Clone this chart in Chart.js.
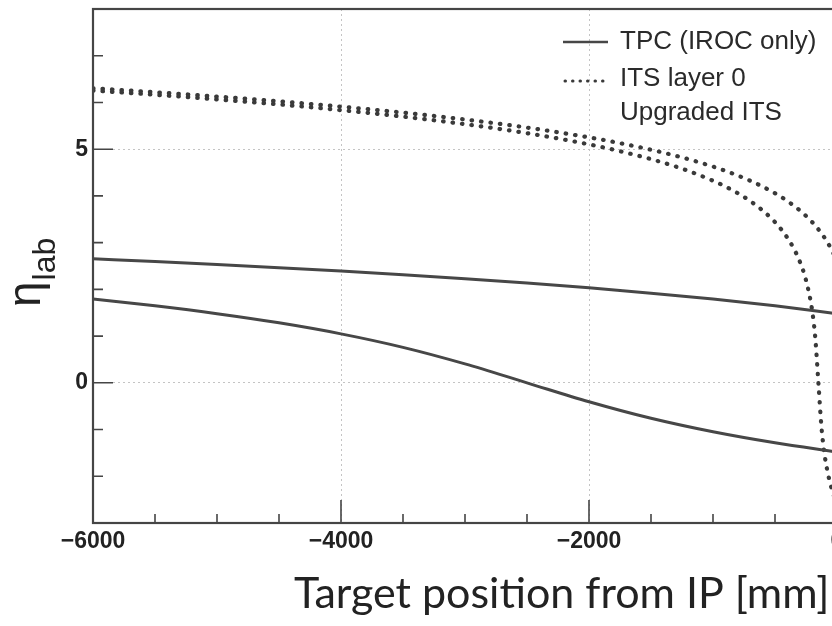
<!DOCTYPE html>
<html>
<head>
<meta charset="utf-8">
<script src="https://cdn.jsdelivr.net/npm/chart.js@4.4.1/dist/chart.umd.min.js"></script>
<style>
  html, body { margin: 0; padding: 0; background: #fff; overflow: hidden; }
  #wrap { width: 850px; height: 626px; }
</style>
</head>
<body>
<div id="wrap"><canvas id="eta-chart" width="850" height="626"></canvas></div>
<script>
// target position along the beam (mm) and eta acceptance limits
const tpcZ = [-6000, -5500, -5000, -4500, -4000, -3500, -3000, -2500, -2000, -1500, -1000, -500, 0];
const tpcUpper = [2.656, 2.596, 2.532, 2.464, 2.391, 2.312, 2.227, 2.134, 2.032, 1.919, 1.792, 1.647, 1.480];
const tpcLower = [1.792, 1.647, 1.480, 1.284, 1.048, 0.759, 0.405, 0, -0.405, -0.759, -1.048, -1.284, -1.480];

const itsZ = [-6000, -5500, -5000, -4500, -4000, -3500, -3000, -2500, -2000, -1750, -1500, -1250,
  -1000, -900, -800, -700, -600, -500, -450, -400, -350, -300, -250, -200, -175, -150, -125,
  -100, -75, -50, -25, 0];
const itsOuter = [6.304, 6.219, 6.126, 6.024, 5.910, 5.782, 5.635, 5.462, 5.253, 5.129, 4.988, 4.824,
  4.627, 4.536, 4.436, 4.325, 4.200, 4.057, 3.977, 3.890, 3.795, 3.689, 3.572, 3.439, 3.364, 3.285, 3.198,
  3.103, 2.998, 2.881, 2.748, 2.596];
const itsInner = [6.254, 6.165, 6.066, 5.958, 5.835, 5.696, 5.535, 5.342, 5.103, 4.957, 4.787, 4.583,
  4.325, 4.200, 4.057, 3.890, 3.689, 3.439, 3.285, 3.103, 2.881, 2.596, 2.197, 1.539, 0.958, 0, -0.958,
  -1.539, -1.919, -2.197, -2.416, -2.596];

const xTickLabels = [-6000, -4000, -2000, 0];
const yTickLabels = [0, 5];
const legendLabels = ["TPC (IROC only)", "ITS layer 0", "Upgraded ITS"];

const toPoints = (xs, ys) => xs.map((x, i) => ({ x: x, y: ys[i] }));
const minus = (v) => String(v).replace("-", "\u2212");

const solidStyle = {
  borderColor: "#474747",
  borderWidth: 3,
  pointRadius: 0,
  fill: false,
  cubicInterpolationMode: "monotone",
};
const dottedStyle = {
  borderColor: "#3a3a3a",
  borderWidth: 4.2,
  borderDash: [0.5, 9],
  borderCapStyle: "round",
  pointRadius: 0,
  fill: false,
  cubicInterpolationMode: "monotone",
};

// ROOT-style frame with ticks pointing into the plot
const frameTicks = {
  id: "frameTicks",
  afterDatasetsDraw(chart) {
    const { ctx, chartArea: a, scales } = chart;
    ctx.save();
    ctx.strokeStyle = "#454545";
    ctx.lineWidth = 2.2;
    ctx.strokeRect(a.left, a.top, a.right - a.left, a.bottom - a.top);
    ctx.lineWidth = 1.6;
    ctx.beginPath();
    scales.x.ticks.forEach((t) => {
      const px = scales.x.getPixelForValue(t.value);
      const len = t.value % 2000 === 0 ? 23 : 9;
      ctx.moveTo(px, a.bottom);
      ctx.lineTo(px, a.bottom - len);
    });
    scales.y.ticks.forEach((t) => {
      const py = scales.y.getPixelForValue(t.value);
      const len = t.value % 5 === 0 ? 20 : 10;
      ctx.moveTo(a.left, py);
      ctx.lineTo(a.left + len, py);
    });
    ctx.stroke();
    ctx.restore();
  },
};

// axis titles and the legend block in the upper right
const labels = {
  id: "labels",
  afterDraw(chart) {
    const { ctx } = chart;
    const ds = chart.data.datasets;
    ctx.save();
    ctx.fillStyle = "#222";

    ctx.font = "43px Lato";
    ctx.textAlign = "left";
    ctx.textBaseline = "alphabetic";
    ctx.fillText("Target position from IP [mm]", 294, 608);

    ctx.save();
    ctx.translate(40, 307);
    ctx.rotate(-Math.PI / 2);
    ctx.font = "46px 'Liberation Sans'";
    ctx.fillText("\u03b7", 0, 0);
    const w = ctx.measureText("\u03b7").width;
    ctx.font = "32px 'Liberation Sans'";
    ctx.fillText("lab", w + 1, 15);
    ctx.restore();

    ctx.font = "26px 'Liberation Sans'";
    ctx.fillStyle = "#2a2a2a";
    ctx.fillText(legendLabels[0], 620, 49);
    ctx.fillText(legendLabels[1], 620, 86);
    ctx.fillText(legendLabels[2], 620, 120);

    ctx.lineCap = "butt";
    ctx.strokeStyle = ds[0].borderColor;
    ctx.lineWidth = 2.4;
    ctx.beginPath();
    ctx.moveTo(563, 42);
    ctx.lineTo(608, 42);
    ctx.stroke();

    ctx.strokeStyle = ds[2].borderColor;
    ctx.lineWidth = 3;
    ctx.lineCap = "round";
    ctx.setLineDash([0.5, 7]);
    ctx.beginPath();
    ctx.moveTo(565, 81);
    ctx.lineTo(608, 81);
    ctx.stroke();
    ctx.restore();
  },
};

new Chart(document.getElementById("eta-chart"), {
  type: "line",
  data: {
    datasets: [
      { label: legendLabels[0], data: toPoints(tpcZ, tpcUpper), ...solidStyle },
      { label: legendLabels[0], data: toPoints(tpcZ, tpcLower), ...solidStyle },
      { label: legendLabels[1], data: toPoints(itsZ, itsOuter), ...dottedStyle },
      { label: legendLabels[1], data: toPoints(itsZ, itsInner), ...dottedStyle },
    ],
  },
  options: {
    responsive: false,
    animation: false,
    layout: { padding: { top: 9, right: 13, left: 0, bottom: 0 } },
    plugins: {
      legend: { display: false },
      tooltip: { enabled: false },
    },
    scales: {
      x: {
        type: "linear",
        min: -6000,
        max: 0,
        afterFit: (scale) => { scale.height = 103; },
        border: { display: false, dash: [2, 3] },
        grid: {
          drawTicks: false,
          lineWidth: 1,
          color: (c) => (xTickLabels.includes(c.tick.value) ? "#c4c4c4" : "rgba(0,0,0,0)"),
        },
        ticks: {
          stepSize: 500,
          autoSkip: false,
          maxRotation: 0,
          padding: 5,
          color: "#222",
          font: { family: "'Liberation Sans'", size: 23, weight: "bold" },
          callback: (v) => (xTickLabels.includes(v) ? minus(v) : ""),
        },
      },
      y: {
        min: -3,
        max: 8,
        afterFit: (scale) => {
          scale.width = 93;
          scale.paddingTop = 0;
          scale.paddingBottom = 0;
        },
        border: { display: false, dash: [2, 3] },
        grid: {
          drawTicks: false,
          lineWidth: 1,
          color: (c) => (yTickLabels.includes(c.tick.value) ? "#c4c4c4" : "rgba(0,0,0,0)"),
        },
        ticks: {
          stepSize: 1,
          autoSkip: false,
          padding: 5,
          color: "#222",
          font: { family: "'Liberation Sans'", size: 23, weight: "bold" },
          callback: (v) => (yTickLabels.includes(v) ? minus(v) : ""),
        },
      },
    },
  },
  plugins: [frameTicks, labels],
});
</script>
</body>
</html>
